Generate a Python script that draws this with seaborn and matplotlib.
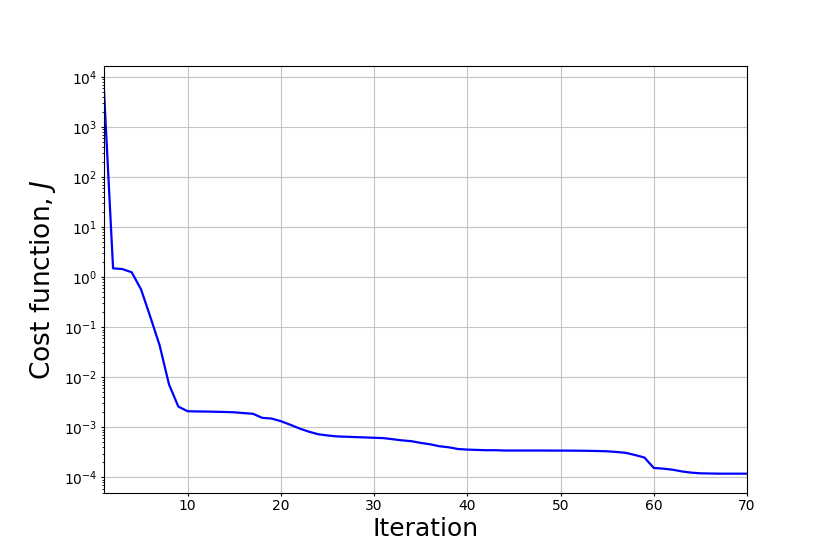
import numpy as np
import pandas as pd
import matplotlib
matplotlib.use("Agg")
import matplotlib.pyplot as plt
import seaborn as sns

# Cost per iteration
iterations = list(range(1, 71))
cost = [
    6.6e3, 1.5, 1.45, 1.25, 0.57, 0.16, 0.043, 0.0072, 0.0026, 0.0021,
    0.00208, 0.00207, 0.00205, 0.00203, 0.00200, 0.00193, 0.00187, 0.00155, 0.0015, 0.00133,
    0.00113, 0.00095, 0.00082, 0.00073, 0.00069, 0.00066, 0.00065, 0.00064, 0.00063, 0.00062,
    0.00061, 0.00058, 0.00055, 0.00053, 0.00049, 0.00046, 0.00042, 0.00040, 0.00037, 0.00036,
    0.000355, 0.00035, 0.00035, 0.000345, 0.000345, 0.000345, 0.000345, 0.000345, 0.000344, 0.000344,
    0.000343, 0.000342, 0.00034, 0.000337, 0.000333, 0.000323, 0.00031, 0.00028, 0.00025, 0.000155,
    0.00015, 0.000143, 0.000132, 0.000125, 0.000121, 0.00012, 0.000119, 0.000119, 0.000119, 0.000119,
]

df = pd.DataFrame({"Iteration": iterations, "J": cost})

fig, ax = plt.subplots(figsize=(8.3, 5.54), dpi=100)
sns.lineplot(data=df, x="Iteration", y="J", color="blue", linewidth=1.6, ax=ax)
ax.set_yscale("log")
ax.set_xlim(1, 70)
ax.grid(True, which="major", color="#c4c4c4")
ax.set_axisbelow(True)
ax.set_xlabel("Iteration", fontsize=18, labelpad=3)
ax.set_ylabel("Cost function, $J$", fontsize=19, labelpad=4)
ax.tick_params(which="major", labelsize=10, length=2.5, pad=2)
ax.tick_params(which="minor", length=1.5)

plt.savefig("out.png")
